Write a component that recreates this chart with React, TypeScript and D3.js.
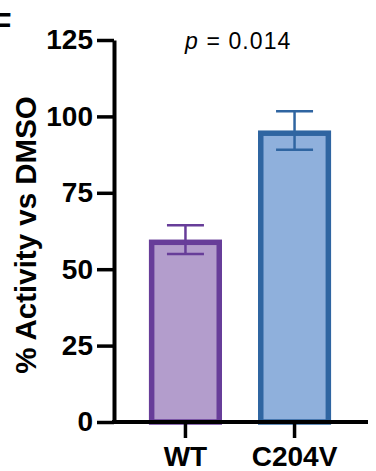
import React, { useRef, useEffect } from 'react';
import * as d3 from 'd3';

const groups = ['WT', 'C204V'];
const means = [59.7, 95.4];
const errors = [4.7, 6.3];
const yTicks = [0, 25, 50, 75, 100, 125];
const strokeColors = ['#673d99', '#2f65a1'];
const fillColors = ['#b39dcc', '#8fb0dc'];

const App = () => {
  const ref = useRef<SVGSVGElement>(null);

  useEffect(() => {
    document.body.style.margin = '0';
    const svg = d3.select(ref.current);
    svg.selectAll('*').remove();
    const font = 'Liberation Sans, Arial, sans-serif';

    const y = d3.scaleLinear().domain([0, 125]).range([422, 40]);
    const x = d3.scaleBand().domain(groups).range([114, 366]).paddingInner(0.33).paddingOuter(0.32);

    // bars, border drawn inside the bar
    const sw = 5.5;
    const bars = svg.append('g');
    groups.forEach((g, i) => {
      const x0 = x(g)!;
      bars.append('rect')
        .attr('x', x0 + sw / 2)
        .attr('y', y(means[i]) + sw / 2)
        .attr('width', x.bandwidth() - sw)
        .attr('height', y(0) - y(means[i]) - sw / 2)
        .attr('fill', fillColors[i])
        .attr('stroke', strokeColors[i])
        .attr('stroke-width', sw);

      const cx = x0 + x.bandwidth() / 2;
      const capW = 37;
      const eb = bars.append('g').attr('stroke', strokeColors[i]).attr('stroke-width', 2.5);
      eb.append('line').attr('x1', cx).attr('x2', cx)
        .attr('y1', y(means[i] + errors[i])).attr('y2', y(means[i] - errors[i]));
      [means[i] + errors[i], means[i] - errors[i]].forEach(v => {
        eb.append('line').attr('x1', cx - capW / 2).attr('x2', cx + capW / 2)
          .attr('y1', y(v)).attr('y2', y(v));
      });
    });

    // y axis
    const yAxis = svg.append('g')
      .attr('transform', 'translate(114,0)')
      .call(d3.axisLeft(y).tickValues(yTicks).tickSize(17).tickSizeOuter(0).tickPadding(4));
    yAxis.select('.domain').attr('stroke-width', 4);
    yAxis.selectAll('.tick line').attr('stroke-width', 3.5);
    yAxis.selectAll('.tick text')
      .attr('font-family', font).attr('font-size', 28).attr('font-weight', 'bold').attr('fill', '#000');

    // x axis
    const xAxis = svg.append('g')
      .attr('transform', `translate(0,${y(0)})`)
      .call(d3.axisBottom(x).tickSize(16).tickSizeOuter(0).tickPadding(8));
    xAxis.select('.domain').attr('d', 'M112,0H368').attr('stroke-width', 4);
    xAxis.selectAll('.tick line').attr('stroke-width', 3.5);
    xAxis.selectAll('.tick text')
      .attr('font-family', font).attr('font-size', 28).attr('font-weight', 'bold').attr('fill', '#000');

    // y label
    svg.append('text')
      .attr('transform', 'translate(36,235) rotate(-90)')
      .attr('text-anchor', 'middle')
      .attr('font-family', font).attr('font-size', 29.5).attr('font-weight', 'bold')
      .text('% Activity vs DMSO');

    // panel letter
    svg.append('text')
      .attr('x', -8).attr('y', 35)
      .attr('font-family', font).attr('font-size', 32).attr('font-weight', 'bold')
      .text('F');

    // p value
    const pt = svg.append('text')
      .attr('x', 185).attr('y', 49)
      .attr('font-family', font).attr('font-size', 23)
      .attr('letter-spacing', 1.1);
    pt.append('tspan').attr('font-style', 'italic').text('p');
    pt.append('tspan').text(' = 0.014');
  }, []);

  return <svg ref={ref} width={376} height={471} style={{ display: 'block' }}></svg>;
};

export default App;
